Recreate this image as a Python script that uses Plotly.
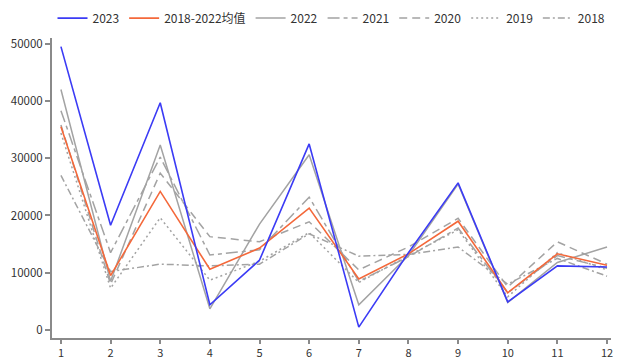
import plotly.graph_objects as go

months = list(range(1, 13))
month_labels = [str(m) for m in months]

y2023 = [49500, 18300, 39700, 4400, 12200, 32500, 500, 13500, 25700, 4900, 11200, 11000]
avg_18_22 = [35500, 9500, 24200, 10600, 14300, 21300, 8900, 13300, 19000, 6500, 13300, 11300]
y2022 = [42000, 8500, 32300, 3700, 18500, 30600, 4400, 13000, 25500, 4800, 11800, 14500]
y2021 = [38300, 13500, 30200, 13100, 14000, 23200, 8500, 12800, 17800, 6500, 13000, 10800]
y2020 = [35800, 8000, 27400, 16300, 15400, 18900, 10500, 14500, 19500, 7500, 15400, 11500]
y2019 = [34400, 7300, 19600, 8700, 12000, 17000, 8300, 13000, 17500, 5800, 13500, 10500]
y2018 = [27000, 10200, 11500, 11200, 11500, 16800, 12900, 13200, 14500, 8000, 12500, 9400]

y_ticks = [0, 10000, 20000, 30000, 40000, 50000]

series = [
    ("2023", y2023, "#3b3bf5", "solid", 1.6),
    ("2018-2022均值", avg_18_22, "#f4683a", "solid", 1.6),
    ("2022", y2022, "#a3a3a3", "solid", 1.5),
    ("2021", y2021, "#a3a3a3", "12px,4px,4px,4px", 1.5),
    ("2020", y2020, "#a3a3a3", "8px,5px", 1.5),
    ("2019", y2019, "#a3a3a3", "2px,3px", 1.5),
    ("2018", y2018, "#a3a3a3", "7px,3px,2px,3px", 1.5),
]

fig = go.Figure()
order_draw = [6, 5, 4, 3, 2, 1, 0]
for i in order_draw:
    name, vals, color, dash, w = series[i]
    fig.add_trace(go.Scatter(
        x=months, y=vals, mode="lines", name=name,
        line=dict(color=color, dash=dash, width=w),
        legendrank=i + 1,
    ))

font_family = "Noto Sans CJK SC, DejaVu Sans, sans-serif"
fig.update_layout(
    width=617, height=359,
    margin=dict(l=52, r=6, t=38, b=21, autoexpand=False),
    paper_bgcolor="white", plot_bgcolor="white",
    font=dict(family=font_family, size=12, color="#333333"),
    showlegend=True,
    legend=dict(orientation="h", x=0.5, xanchor="center", y=0.99, yanchor="top",
                yref="container",
                font=dict(size=12, color="#333333"), itemwidth=30,
                traceorder="normal", bgcolor="rgba(0,0,0,0)"),
    xaxis=dict(range=[0.82, 12.08], tickvals=months, ticktext=month_labels,
               showline=True, linecolor="#8a8a8a", linewidth=2,
               ticks="outside", ticklen=4, tickcolor="#8a8a8a", tickwidth=1.5,
               showgrid=False, zeroline=False, tickfont=dict(size=11)),
    yaxis=dict(range=[-1400, 51000], tickvals=y_ticks,
               ticktext=[str(v) for v in y_ticks],
               showline=True, linecolor="#8a8a8a", linewidth=2,
               ticks="outside", ticklen=5, tickcolor="#8a8a8a", tickwidth=1.5,
               showgrid=False, zeroline=False, tickfont=dict(size=11.5)),
)

# remove the default page margin so the figure fills the window exactly
fig.write_html("out.html", config={"displayModeBar": False},
               post_script="document.body.style.margin='0px';document.body.style.overflow='hidden';")
